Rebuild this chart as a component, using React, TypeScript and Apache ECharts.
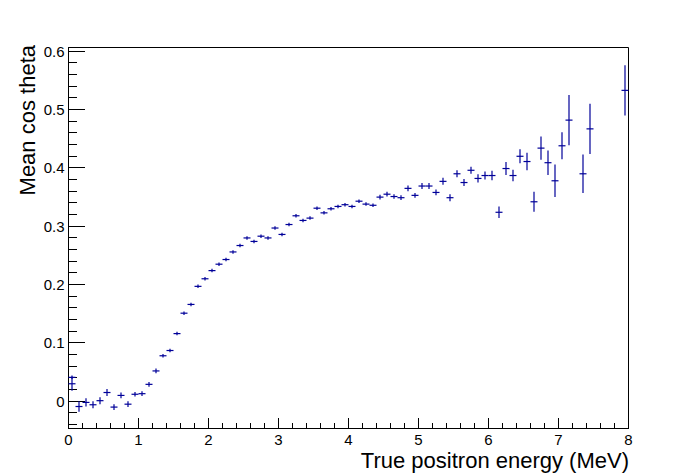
import React, { useEffect, useRef } from "react";
import * as echarts from "echarts";

const binCenters = [
  0.05, 0.05, 0.15, 0.25, 0.35, 0.45, 0.55, 0.65, 0.75, 0.85, 0.95,
  1.05, 1.15, 1.25, 1.35, 1.45, 1.55, 1.65, 1.75, 1.85, 1.95,
  2.05, 2.15, 2.25, 2.35, 2.45, 2.55, 2.65, 2.75, 2.85, 2.95,
  3.05, 3.15, 3.25, 3.35, 3.45, 3.55, 3.65, 3.75, 3.85, 3.95,
  4.05, 4.15, 4.25, 4.35, 4.45, 4.55, 4.65, 4.75, 4.85, 4.95,
  5.05, 5.15, 5.25, 5.35, 5.45, 5.55, 5.65, 5.75, 5.85, 5.95,
  6.05, 6.15, 6.25, 6.35, 6.45, 6.55, 6.65, 6.75, 6.85, 6.95,
  7.05, 7.15, 7.35, 7.45, 7.95,
];

const meanCos = [
  0.041, 0.030, -0.009, -0.002, -0.006, 0.001, 0.015, -0.010, 0.010, -0.005, 0.012,
  0.013, 0.029, 0.052, 0.078, 0.087, 0.116, 0.151, 0.166, 0.197, 0.210,
  0.224, 0.235, 0.243, 0.256, 0.267, 0.280, 0.274, 0.283, 0.280, 0.297,
  0.286, 0.303, 0.318, 0.310, 0.314, 0.331, 0.323, 0.330, 0.334, 0.337,
  0.334, 0.343, 0.338, 0.336, 0.350, 0.355, 0.351, 0.349, 0.365, 0.353,
  0.369, 0.369, 0.358, 0.377, 0.349, 0.390, 0.375, 0.396, 0.382, 0.387,
  0.387, 0.324, 0.399, 0.387, 0.420, 0.411, 0.342, 0.434, 0.409, 0.378,
  0.438, 0.482, 0.390, 0.467, 0.533,
];

const errCos = [
  0.003, 0.012, 0.009, 0.007, 0.006, 0.006, 0.006, 0.005, 0.005, 0.005, 0.004,
  0.004, 0.004, 0.004, 0.003, 0.003, 0.003, 0.003, 0.003, 0.003, 0.003,
  0.003, 0.003, 0.003, 0.003, 0.003, 0.003, 0.003, 0.003, 0.003, 0.003,
  0.003, 0.003, 0.003, 0.003, 0.003, 0.003, 0.003, 0.003, 0.003, 0.003,
  0.003, 0.003, 0.003, 0.003, 0.004, 0.004, 0.004, 0.004, 0.005, 0.004,
  0.005, 0.005, 0.005, 0.006, 0.006, 0.006, 0.006, 0.006, 0.007, 0.007,
  0.008, 0.010, 0.011, 0.010, 0.012, 0.015, 0.017, 0.020, 0.021, 0.028,
  0.023, 0.043, 0.033, 0.043, 0.043,
];

const binHalfWidth = 0.05;
const xMajorTicks = [0, 1, 2, 3, 4, 5, 6, 7, 8];
const xMinorTicks = [
  0.2, 0.4, 0.6, 0.8, 1.2, 1.4, 1.6, 1.8, 2.2, 2.4, 2.6, 2.8, 3.2, 3.4, 3.6, 3.8,
  4.2, 4.4, 4.6, 4.8, 5.2, 5.4, 5.6, 5.8, 6.2, 6.4, 6.6, 6.8, 7.2, 7.4, 7.6, 7.8,
];
const yMajorTicks = [0, 0.1, 0.2, 0.3, 0.4, 0.5, 0.6];
const yMinorTicks = [
  -0.04, -0.02, 0.02, 0.04, 0.06, 0.08, 0.12, 0.14, 0.16, 0.18,
  0.22, 0.24, 0.26, 0.28, 0.32, 0.34, 0.36, 0.38, 0.42, 0.44, 0.46,
  0.48, 0.52, 0.54, 0.56, 0.58,
];
// tick kinds: 0 = x major, 1 = x minor, 2 = y major, 3 = y minor
const tickLengths = [11, 6, 17, 9];

const FONT = "'Liberation Sans', Arial, Helvetica, sans-serif";
const COLOR = "#000099";

export default function App() {
  const ref = useRef<HTMLDivElement>(null);
  useEffect(() => {
    document.body.style.margin = "0";
    const chart = echarts.init(ref.current!, null, { renderer: "svg" });
    const yMin = -0.0467;
    const yMax = 0.6065;
    const data = binCenters.map((x, i) => [x, meanCos[i], errCos[i]]);
    const tickData = [
      ...xMajorTicks.map((v) => [v, 0.3, 0]),
      ...xMinorTicks.map((v) => [v, 0.3, 1]),
      ...yMajorTicks.map((v) => [4, v, 2]),
      ...yMinorTicks.map((v) => [4, v, 3]),
    ];
    chart.setOption({
      animation: false,
      backgroundColor: "#ffffff",
      grid: {
        left: 68.5,
        right: 69.5,
        top: 47.5,
        bottom: 47.5,
        show: true,
        borderColor: "#000000",
        borderWidth: 1,
      },
      xAxis: {
        type: "value",
        min: 0,
        max: 8,
        interval: 1,
        axisLine: { show: true, onZero: false, lineStyle: { color: "#000000", width: 1 } },
        axisTick: { show: false },
        splitLine: { show: false },
        axisLabel: {
          show: true,
          margin: 3,
          color: "#000",
          fontFamily: FONT,
          fontSize: 15,
          formatter: (v: number) => String(v),
        },
      },
      yAxis: {
        type: "value",
        min: yMin,
        max: yMax,
        position: "left",
        axisLine: { show: true, onZero: false, lineStyle: { color: "#000000", width: 1 } },
        axisTick: { show: false },
        splitLine: { show: false },
        axisLabel: {
          show: true,
          customValues: yMajorTicks,
          margin: 4,
          color: "#000",
          fontFamily: FONT,
          fontSize: 15,
          formatter: (v: number) => (Math.abs(v) < 1e-9 ? "0" : v.toFixed(1)),
        },
      },
      graphic: [
        {
          type: "text",
          x: 27,
          y: 45,
          rotation: Math.PI / 2,
          style: {
            text: "Mean cos theta",
            font: `22px ${FONT}`,
            fill: "#000",
            textAlign: "right",
            textVerticalAlign: "middle",
          },
        },
        {
          type: "text",
          x: 629,
          y: 460,
          style: {
            text: "True positron energy (MeV)",
            font: `22px ${FONT}`,
            fill: "#000",
            textAlign: "right",
            textVerticalAlign: "middle",
          },
        },
      ],
      series: [
        {
          type: "custom",
          name: "axis ticks",
          data: tickData,
          encode: { x: 0, y: 1 },
          z: 5,
          renderItem: (params: any, api: any) => {
            const x = api.value(0);
            const y = api.value(1);
            const kind = api.value(2);
            const len = tickLengths[kind];
            const cs = params.coordSys;
            const p = api.coord([x, y]);
            if (kind < 2) {
              const px = Math.round(p[0] - 0.5);
              const by = Math.round(cs.y + cs.height);
              return {
                type: "rect",
                shape: { x: px, y: by - len, width: 1, height: len },
                style: { fill: "#000000" },
              };
            }
            const py = Math.round(p[1] - 0.5);
            const lx = Math.round(cs.x - 0.5);
            return {
              type: "rect",
              shape: { x: lx, y: py, width: len, height: 1 },
              style: { fill: "#000000" },
            };
          },
        },
        {
          type: "custom",
          name: "mean cos theta",
          data,
          encode: { x: 0, y: 1 },
          z: 6,
          renderItem: (params: any, api: any) => {
            const x = api.value(0);
            const y = api.value(1);
            const e = api.value(2);
            const l = api.coord([x - binHalfWidth, y]);
            const r = api.coord([x + binHalfWidth, y]);
            const t = api.coord([x, y + e]);
            const b = api.coord([x, y - e]);
            const style = { stroke: COLOR, lineWidth: 1.2 };
            return {
              type: "group",
              children: [
                { type: "line", shape: { x1: l[0], y1: l[1], x2: r[0], y2: r[1] }, style },
                { type: "line", shape: { x1: t[0], y1: t[1], x2: b[0], y2: b[1] }, style },
              ],
            };
          },
        },
      ],
    });
    return () => chart.dispose();
  }, []);
  return <div ref={ref} style={{ width: 698, height: 476 }} />;
}
